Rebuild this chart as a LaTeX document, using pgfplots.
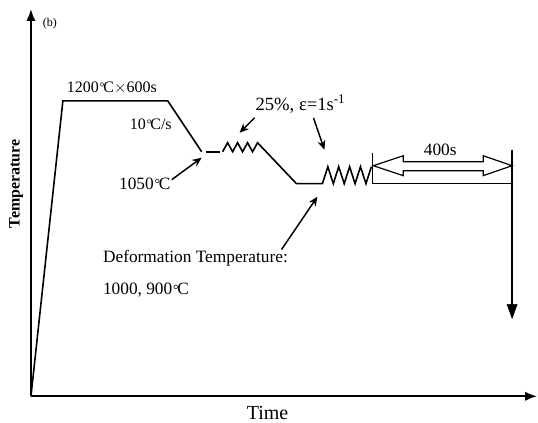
\documentclass[border=0pt]{standalone}
\usepackage{fontspec}
\setmainfont{Liberation Serif}
\newcommand{\dC}{\kern0.05em\raisebox{0.05em}{\scalebox{0.8}{°}}\kern-0.08em C}
\usepackage{pgfplots}
\pgfplotsset{compat=1.18}
\usetikzlibrary{arrows.meta}
\newcommand{\fs}[1]{\fontsize{#1}{#1}\selectfont}
\begin{document}
\begin{tikzpicture}
\begin{axis}[
  scale only axis, width=403.5pt, height=317.25pt,
  xmin=0, xmax=538, ymin=0, ymax=423,
  hide axis, clip=false,
]
\path (axis cs:0,0) rectangle (axis cs:538,423);
% axes
\draw[line width=1.4pt, -{Latex[length=9pt,width=7pt]}] (axis cs:31,26) -- (axis cs:31,414);
\draw[line width=1.4pt, -{Latex[length=9pt,width=7pt]}] (axis cs:31,26) -- (axis cs:538,26);
% temperature profile
\addplot[black, line width=1.2pt, mark=none] coordinates {(31,26) (63,322) (168,322) (202,271)};
\addplot[black, line width=1.2pt, mark=none] coordinates {(206,271) (220,271)};
\addplot[black, line width=1.2pt, mark=none] coordinates {(223,271) (228,280) (233,271) (238,280) (243,271) (248,280) (253,271) (258,280) (297,239) (323,239) (328.4,256) (333.9,239) (339.3,256) (344.8,239) (350.2,256) (355.7,239) (361.1,256) (366.6,239) (372,256)};
\addplot[black, line width=1.2pt, mark=none] coordinates {(373,270) (373,239) (513,239)};
\addplot[black, line width=1.2pt, mark=none] coordinates {(513,273) (513,116)};
\draw[fill=black] (axis cs:508,118) -- (axis cs:518,118) -- (axis cs:513,104) -- cycle;
% hollow double arrow
\draw[line width=0.9pt] (axis cs:374,257) -- (axis cs:404,267) -- (axis cs:404,261) -- (axis cs:484,261) -- (axis cs:484,267) -- (axis cs:513,257) -- (axis cs:484,247) -- (axis cs:484,252) -- (axis cs:404,252) -- (axis cs:404,247) -- cycle;
% annotation arrows
\draw[line width=1.1pt, -{Stealth[length=7pt,width=6pt]}] (axis cs:172,243) -- (axis cs:202,265);
\draw[line width=1.1pt, -{Stealth[length=7pt,width=6pt]}] (axis cs:255,305) -- (axis cs:240,290);
\draw[line width=1.1pt, -{Stealth[length=7pt,width=6pt]}] (axis cs:314,305) -- (axis cs:325,273);
\draw[line width=1.1pt, -{Stealth[length=7pt,width=6pt]}] (axis cs:282,173) -- (axis cs:318,226);
% labels
\node[font=\fs{9}] at (axis cs:50,399) {(b)};
\node[font=\fs{12}, inner sep=0pt] at (axis cs:112,335) {1200\dC$\times$600s};
\node[font=\fs{12}, inner sep=0pt] at (axis cs:151,299) {10\dC/s};
\node[font=\fs{13}, inner sep=0pt] at (axis cs:145,239) {1050\dC};
\node[font=\fs{14}, inner sep=0pt] at (axis cs:301,319) {25\%, ε=1s\textsuperscript{-1}};
\node[font=\fs{13}, inner sep=0pt] at (axis cs:441,273) {400s};
\node[font=\fs{13}, inner sep=0pt, anchor=west] at (axis cs:103,164) {Deformation Temperature:};
\node[font=\fs{13}, inner sep=0pt, anchor=west] at (axis cs:103,132) {1000, 900\dC};
\node[font=\fs{12}\bfseries, inner sep=0pt, rotate=90] at (axis cs:16,239) {Temperature};
\node[font=\fs{15}, inner sep=0pt] at (axis cs:268,9) {Time};
\end{axis}
\end{tikzpicture}
\end{document}
